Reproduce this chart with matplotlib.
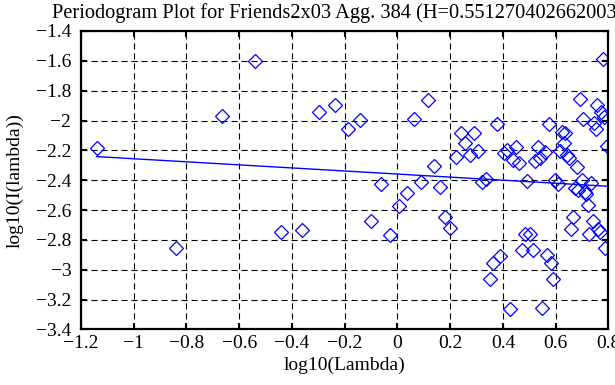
import numpy as np
import matplotlib
matplotlib.use("Agg")
from matplotlib import pyplot as plt

# ---------------------------
# Data
# ---------------------------
log_lambda = [
    -1.141, -0.840, -0.664, -0.539, -0.442, -0.363, -0.296, -0.238, -0.187, -0.141,
    -0.100, -0.062, -0.027, 0.005, 0.035, 0.063, 0.089, 0.114, 0.137, 0.160,
    0.181, 0.201, 0.220, 0.239, 0.257, 0.274, 0.290, 0.306, 0.321, 0.336,
    0.350, 0.364, 0.377, 0.390, 0.403, 0.415, 0.427, 0.438, 0.450, 0.461,
    0.471, 0.482, 0.492, 0.502, 0.512, 0.521, 0.531, 0.540, 0.549, 0.558,
    0.566, 0.575, 0.583, 0.591, 0.599, 0.607, 0.615, 0.622, 0.630, 0.637,
    0.644, 0.651, 0.658, 0.665, 0.672, 0.679, 0.685, 0.691, 0.698, 0.704,
    0.710, 0.716, 0.722, 0.728, 0.734, 0.740, 0.745, 0.751, 0.756, 0.762,
    0.767, 0.772, 0.778, 0.783, 0.788, 0.793,
]
log_I = [
    -2.182, -2.854, -1.970, -1.600, -2.745, -2.731, -1.943, -1.898, -2.054, -1.996,
    -2.673, -2.423, -2.765, -2.570, -2.483, -1.992, -2.412, -1.860, -2.307, -2.443,
    -2.648, -2.720, -2.246, -2.085, -2.153, -2.231, -2.081, -2.204, -2.410, -2.394,
    -3.064, -2.956, -2.025, -2.905, -2.220, -2.197, -3.261, -2.264, -2.175, -2.282,
    -2.867, -2.762, -2.405, -2.762, -2.867, -2.271, -2.174, -2.249, -3.258, -2.209,
    -2.900, -2.025, -2.956, -3.064, -2.398, -2.427, -2.204, -2.075, -2.153, -2.085,
    -2.231, -2.253, -2.729, -2.648, -2.454, -2.309, -2.465, -1.858, -2.398, -1.992,
    -2.477, -2.492, -2.566, -2.760, -2.416, -2.671, -2.014, -2.059, -1.896, -2.729,
    -2.745, -1.940, -1.590, -1.974, -2.856, -2.170,
]
H = 0.551270402662003
fit_intercept = -2.3586

x_ticks = [-1.2, -1, -0.8, -0.6, -0.4, -0.2, 0, 0.2, 0.4, 0.6, 0.8]
y_ticks = [-3.4, -3.2, -3, -2.8, -2.6, -2.4, -2.2, -2, -1.8, -1.6, -1.4]

plt.rcParams['font.family'] = ['Liberation Serif', 'DejaVu Serif']

fig = plt.figure(figsize=(6.15, 3.85), dpi=100)
ax = fig.add_axes([0.1317, 0.1442, 0.8577, 0.7753])

ax.plot(log_lambda, log_I, linestyle='none', marker='D', markersize=7,
        markerfacecolor='none', markeredgecolor='blue', markeredgewidth=0.9)

# least squares line, slope = 1 - 2H
xfit = np.array([log_lambda[0], log_lambda[-1]])
ax.plot(xfit, fit_intercept + (1 - 2 * H) * xfit, color='blue', lw=1.0)

ax.set_xlim(-1.2, 0.8)
ax.set_ylim(-3.4, -1.4)
ax.set_xticks(x_ticks)
ax.set_yticks(y_ticks)
ax.set_xticklabels([('%g' % t).replace('-', '\u2212') for t in x_ticks])
ax.set_yticklabels([('%g' % t).replace('-', '\u2212') for t in y_ticks])

ax.grid(True, color='black', linestyle=(0, (5.5, 3.5)), linewidth=0.8)
ax.tick_params(direction='in', length=4, width=1.5, top=True, right=True,
               labelsize=14, colors='black')
ax.tick_params(axis='x', pad=4)
ax.tick_params(axis='y', pad=7)
for s in ax.spines.values():
    s.set_linewidth(1.6)

ax.set_xlabel('log10(Lambda)', fontsize=14, labelpad=3)
ax.set_ylabel('log10(I(lambda))', fontsize=14, labelpad=9)
# title is wider than the figure in the reference, so it runs off the right edge
fig.text(52 / 615, 1 - 18 / 385,
         'Periodogram Plot for Friends2x03 Agg. 384 (H=%.15f)' % H,
         fontsize=14.7, ha='left', va='baseline')

fig.savefig('out.png', dpi=100)
